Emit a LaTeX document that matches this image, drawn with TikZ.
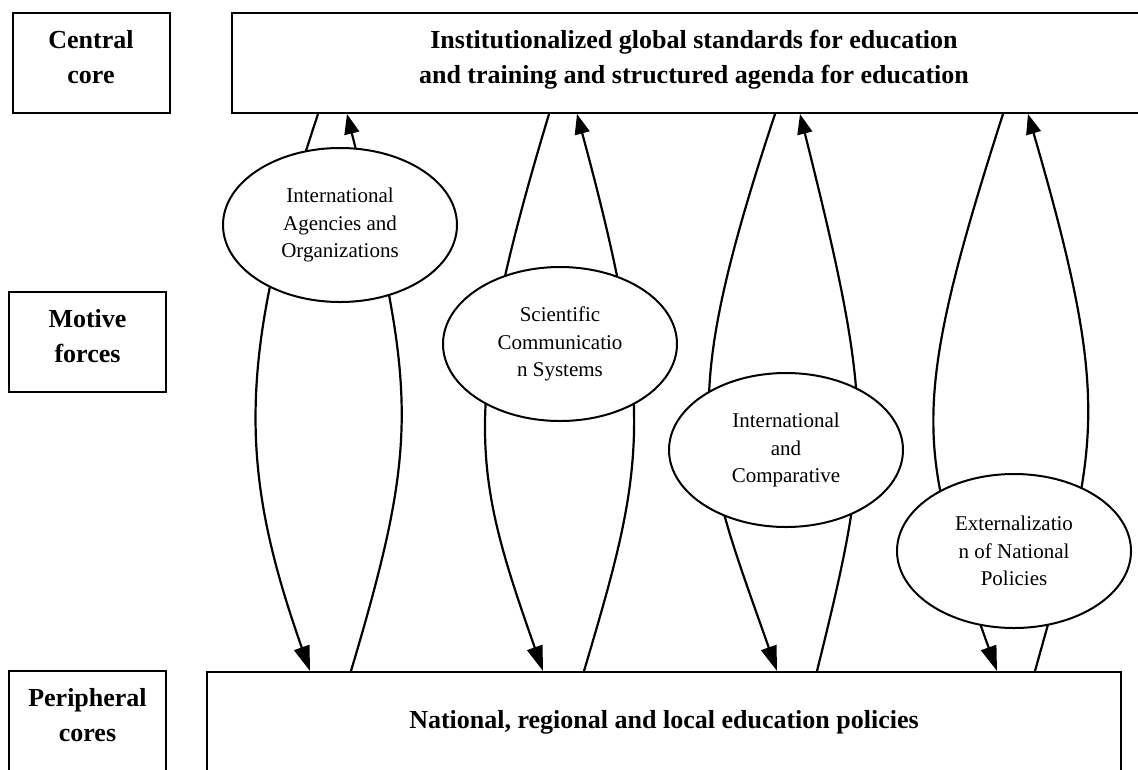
\documentclass[tikz,border=0pt]{standalone}
\usepackage{fontspec}
\setmainfont{Liberation Serif}
\usetikzlibrary{arrows.meta,shapes.geometric}

\begin{document}
\begin{tikzpicture}[x=1pt,y=-1pt,
  heading/.style={draw, line width=2pt, minimum width=157pt, minimum height=100pt,
    inner sep=0pt, align=center, font=\fontsize{26}{35}\selectfont\bfseries,
    text height=53pt, text depth=13pt},
  bigbox/.style={draw, line width=2pt, inner sep=0pt, align=center,
    font=\fontsize{26}{35}\selectfont\bfseries},
  force/.style={ellipse, draw, fill=white, line width=2pt, minimum width=234pt,
    minimum height=154pt, inner sep=0pt, align=center,
    font=\fontsize{21}{27.5}\selectfont},
  flow/.style={line width=2.2pt},
  downflow/.style={flow, -{Triangle[length=25pt,width=16pt]}},
  upflow/.style={flow, -{Triangle[length=20pt,width=15pt]}},
]
\useasboundingbox (0,0) rectangle (1138,769);
\clip (0,0) rectangle (1138,769);

% level labels on the left
\node[heading] (central) at (91,63) {Central\\core};
\node[heading] (motive) at (87.5,342) {Motive\\forces};
\node[heading] (peripheral) at (87.5,721) {Peripheral\\cores};

% central core and peripheral cores
\node[bigbox, minimum width=924pt, minimum height=100pt, text height=53pt, text depth=13pt]
  (core) at (694,63)
  {Institutionalized global standards for education\\and training and structured agenda for education};
\node[bigbox, minimum width=914pt, minimum height=130pt, text height=18pt, text depth=36pt]
  (policies) at (664,737) {National, regional and local education policies};

% end points of the flows on the two cores
\coordinate (d1s) at (318,0 |- core.south);      \coordinate (d1e) at (310,0 |- policies.north);
\coordinate (u1s) at (351,0 |- policies.north);  \coordinate (u1e) at (347,0 |- core.south);
\coordinate (d2s) at (549,0 |- core.south);      \coordinate (d2e) at (543,0 |- policies.north);
\coordinate (u2s) at (584,0 |- policies.north);  \coordinate (u2e) at (577,0 |- core.south);
\coordinate (d3s) at (775,0 |- core.south);      \coordinate (d3e) at (777,0 |- policies.north);
\coordinate (u3s) at (817,0 |- policies.north);  \coordinate (u3e) at (800,0 |- core.south);
\coordinate (d4s) at (1003,0 |- core.south);     \coordinate (d4e) at (997,0 |- policies.north);
\coordinate (u4s) at (1035,0 |- policies.north); \coordinate (u4e) at (1028,0 |- core.south);

% downward and upward flows through each motive force
\draw[downflow] (d1s) .. controls (235,363) and (240,472) .. (d1e);
\draw[upflow]   (u1s) .. controls (420,439) and (417,393) .. (u1e);
\draw[downflow] (d2s) .. controls (459,413) and (473,472) .. (d2e);
\draw[upflow]   (u2s) .. controls (644,469) and (658,413) .. (u2e);
\draw[downflow] (d3s) .. controls (676,413) and (700,452) .. (d3e);
\draw[upflow]   (u3s) .. controls (872,449) and (875,413) .. (u3e);
\draw[downflow] (d4s) .. controls (907,413) and (918,450) .. (d4e);
\draw[upflow]   (u4s) .. controls (1097,448) and (1115,413) .. (u4e);

% motive forces
\node[force] (agencies) at (340,225) {International\\Agencies and\\Organizations};
\node[force] (science) at (560,344) {Scientific\\Communicatio\\n Systems};
\node[force] (compare) at (786,450) {International\\and\\Comparative};
\node[force] (external) at (1014,551) {Externalizatio\\n of National\\Policies};
\end{tikzpicture}
\end{document}
